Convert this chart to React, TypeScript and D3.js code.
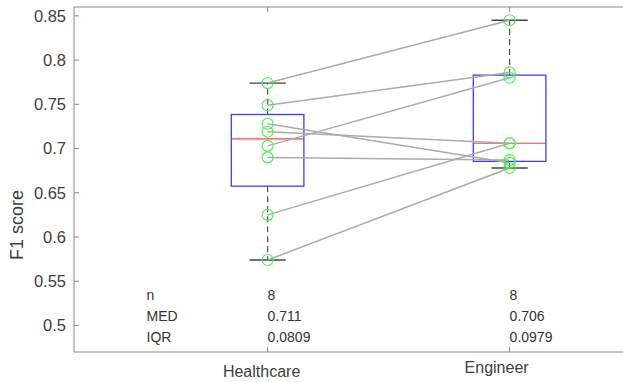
import * as d3 from 'd3';

const categories = ['Healthcare', 'Engineer'];
// paired scores, same index = same subject
const healthcare = [0.774, 0.749, 0.728, 0.719, 0.703, 0.690, 0.625, 0.574];
const engineer = [0.845, 0.786, 0.684, 0.706, 0.780, 0.687, 0.706, 0.678];
const yTicks = [0.5, 0.55, 0.6, 0.65, 0.7, 0.75, 0.8, 0.85];
const statLabels = ['n', 'MED', 'IQR'];
const statValues = [
  ['8', '0.711', '0.0809'],
  ['8', '0.706', '0.0979'],
];
// small nudges of the category labels, as in the source figure
const catLabelShift = [
  [-6, 2],
  [-13, -2],
];

const W = 623;
const H = 382;
const left = 74;
const top = 7;
const bottom = 352;
const font = 'Helvetica, Arial, "Liberation Sans", sans-serif';

// MATLAB-style percentile (midpoint positions)
function prc(vals: number[], p: number) {
  const s = [...vals].sort((a, b) => a - b);
  const pos = (s.length * p) / 100 + 0.5;
  if (pos <= 1) return s[0];
  if (pos >= s.length) return s[s.length - 1];
  const i = Math.floor(pos);
  return s[i - 1] + (pos - i) * (s[i] - s[i - 1]);
}

export default function App() {
  const x = d3.scaleLinear().domain([0.2, 2.5]).range([left, left + 2.3 * 242]);
  const y = d3.scaleLinear().domain([0.47, 0.86]).range([bottom, top]);
  const groups = [healthcare, engineer];
  const boxW = x(1.15) - x(0.85);
  const capW = x(1.075) - x(0.925);

  return (
    <svg width={W} height={H} style={{ position: 'fixed', left: 0, top: 0, background: '#fff' }} fontFamily={font}>
      {/* frame */}
      <line x1={left} x2={W} y1={top} y2={top} stroke="#8a8a8a" />
      <line x1={left} x2={W} y1={bottom} y2={bottom} stroke="#8a8a8a" />
      <line x1={left} x2={left} y1={top} y2={bottom} stroke="#8a8a8a" />

      {yTicks.map((t) => (
        <g key={t}>
          <line x1={left} x2={left + 5} y1={y(t)} y2={y(t)} stroke="#8a8a8a" />
          <text x={left - 8} y={y(t)} dy="0.35em" textAnchor="end" fontSize={16.5} fill="#404040">
            {d3.format('~g')(t)}
          </text>
        </g>
      ))}
      <text transform={`translate(17,225) rotate(-90)`} textAnchor="middle" dy="0.35em" fontSize={18} fill="#404040">
        F1 score
      </text>

      {categories.map((c, i) => (
        <g key={c}>
          <line x1={x(i + 1)} x2={x(i + 1)} y1={bottom} y2={bottom - 5} stroke="#8a8a8a" />
          <line x1={x(i + 1)} x2={x(i + 1)} y1={top} y2={top + 5} stroke="#8a8a8a" />
          <text x={x(i + 1) + catLabelShift[i][0]} y={375 + catLabelShift[i][1]} textAnchor="middle" fontSize={16} fill="#404040">
            {c}
          </text>
        </g>
      ))}

      {/* boxes */}
      {groups.map((g, i) => {
        const q1 = prc(g, 25);
        const q3 = prc(g, 75);
        const med = prc(g, 50);
        const lo = d3.min(g) as number;
        const hi = d3.max(g) as number;
        const cx = x(i + 1);
        return (
          <g key={i}>
            <line x1={cx} x2={cx} y1={y(q3)} y2={y(hi)} stroke="#555" strokeWidth={1.2} strokeDasharray="6,4" />
            <line x1={cx} x2={cx} y1={y(q1)} y2={y(lo)} stroke="#555" strokeWidth={1.2} strokeDasharray="6,4" />
            <line x1={cx - capW / 2} x2={cx + capW / 2} y1={y(hi)} y2={y(hi)} stroke="#444" strokeWidth={1.3} />
            <line x1={cx - capW / 2} x2={cx + capW / 2} y1={y(lo)} y2={y(lo)} stroke="#444" strokeWidth={1.3} />
            <rect x={cx - boxW / 2} y={y(q3)} width={boxW} height={y(q1) - y(q3)} fill="none" stroke="#3c3cff" strokeWidth={1.3} />
            <line x1={cx - boxW / 2} x2={cx + boxW / 2} y1={y(med)} y2={y(med)} stroke="#ff4040" strokeWidth={1.2} />
          </g>
        );
      })}

      {/* pairs */}
      {healthcare.map((v, j) => (
        <line key={j} x1={x(1)} y1={y(v)} x2={x(2)} y2={y(engineer[j])} stroke="#ababab" strokeWidth={1.5} />
      ))}
      {groups.map((g, i) =>
        g.map((v, j) => (
          <circle key={`${i}-${j}`} cx={x(i + 1)} cy={y(v)} r={5.5} fill="none" stroke="#4cf04c" strokeWidth={1.2} />
        ))
      )}

      {/* stats */}
      {statLabels.map((s, r) => (
        <g key={s} fontSize={14} fill="#333">
          <text x={x(0.5)} y={300 + r * 21.2}>{s}</text>
          {statValues.map((col, i) => (
            <text key={i} x={x(i + 1)} y={300 + r * 21.2}>{col[r]}</text>
          ))}
        </g>
      ))}
    </svg>
  );
}
